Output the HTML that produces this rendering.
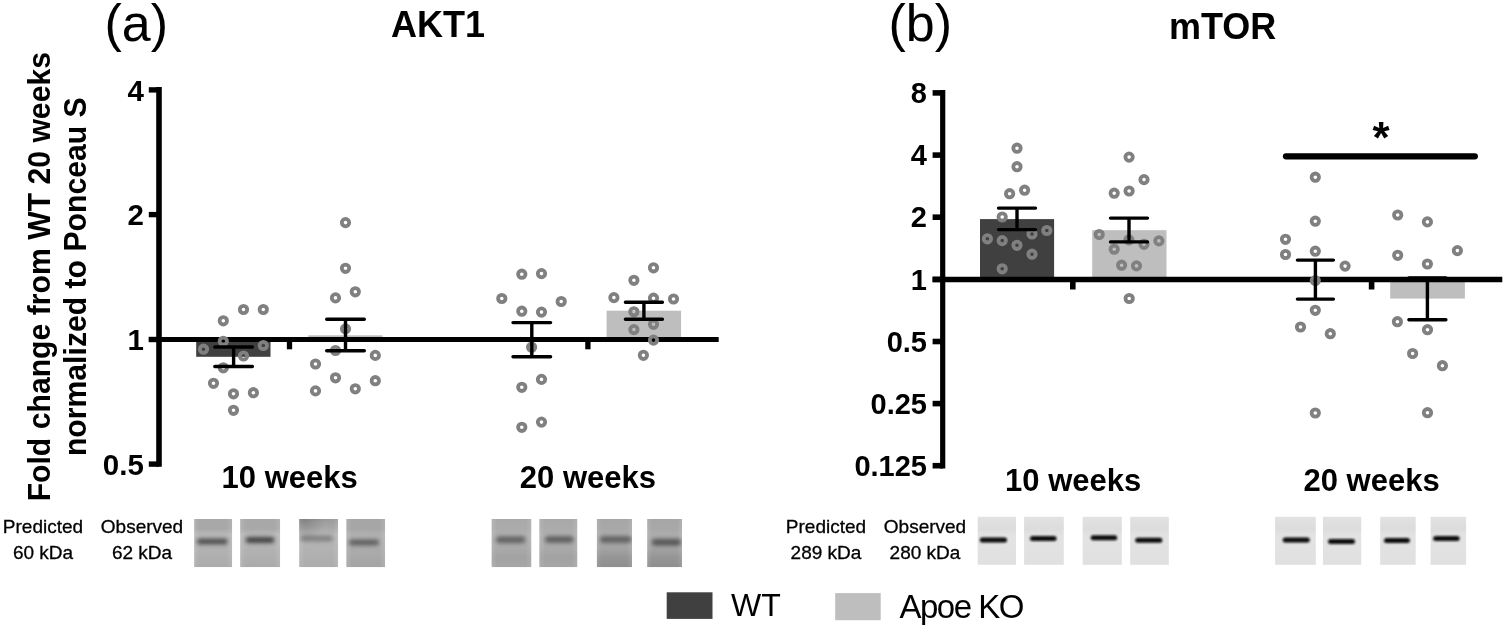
<!DOCTYPE html>
<html><head><meta charset="utf-8"><title>AKT1 and mTOR</title>
<style>html,body{margin:0;padding:0;background:#fff;}body{width:1505px;height:627px;position:relative;overflow:hidden;}</style>
</head><body>
<svg width="1505" height="627" viewBox="0 0 1505 627" style="position:absolute;left:0;top:0">
<rect width="1505" height="627" fill="#fff"/>
<text x="104.4" y="40.8" font-family='"Liberation Sans", Arial, Helvetica, sans-serif' font-size="52" fill="#000">(a)</text>
<text x="391" y="36.7" font-family='"Liberation Sans", Arial, Helvetica, sans-serif' font-size="36" font-weight="bold" fill="#000">AKT1</text>
<text x="888.4" y="40.8" font-family='"Liberation Sans", Arial, Helvetica, sans-serif' font-size="52" fill="#000">(b)</text>
<text x="1169" y="38.9" font-family='"Liberation Sans", Arial, Helvetica, sans-serif' font-size="36" font-weight="bold" fill="#000">mTOR</text>
<g font-family='"Liberation Sans", Arial, Helvetica, sans-serif' font-size="31.3" font-weight="bold" fill="#000" text-anchor="middle">
<text transform="translate(49.5 276.7) rotate(-90) scale(0.9645 1)">Fold change from WT 20 weeks</text>
<text transform="translate(86.3 276.7) rotate(-90) scale(0.9645 1)">normalized to Ponceau S</text>
</g>
<rect x="196.2" y="339" width="74.3" height="17.8" fill="#404040"/>
<rect x="308.3" y="335.3" width="74.2" height="4.5" fill="#bebebe"/>
<rect x="606.6" y="310.7" width="74.5" height="29" fill="#bebebe"/>
<rect x="980.0" y="219.1" width="74.1" height="60.5" fill="#404040"/>
<rect x="1092.2" y="230.2" width="74.3" height="49.5" fill="#bebebe"/>
<rect x="1390.2" y="279" width="74.7" height="19.6" fill="#bebebe"/>
<path d="M159.0 87.1V466.8" stroke="#000" stroke-width="5.6" fill="none"/>
<path d="M148.8 89.9H159.0" stroke="#000" stroke-width="5.4" fill="none"/>
<path d="M148.8 214.6H159.0" stroke="#000" stroke-width="5.4" fill="none"/>
<path d="M148.8 339.5H159.0" stroke="#000" stroke-width="5.4" fill="none"/>
<path d="M148.8 464.1H159.0" stroke="#000" stroke-width="5.4" fill="none"/>
<path d="M148.8 339.5H718.7" stroke="#000" stroke-width="5.1" fill="none"/>
<path d="M289.5 339.5V349.3" stroke="#000" stroke-width="5.3" fill="none"/>
<path d="M587.9 339.5V349.3" stroke="#000" stroke-width="5.3" fill="none"/>
<g font-family='"Liberation Sans", Arial, Helvetica, sans-serif' font-size="29.5" font-weight="bold" fill="#000" text-anchor="end">
<text x="143.8" y="100.5">4</text>
<text x="143.8" y="225.2">2</text>
<text x="143.8" y="350.1">1</text>
<text x="143.8" y="474.70000000000005">0.5</text>
</g>
<path d="M942.7 90.1V468.5" stroke="#000" stroke-width="5.2" fill="none"/>
<path d="M932.6 92.9H942.7" stroke="#000" stroke-width="5.6" fill="none"/>
<path d="M932.6 155.1H942.7" stroke="#000" stroke-width="5.6" fill="none"/>
<path d="M932.6 217.2H942.7" stroke="#000" stroke-width="5.6" fill="none"/>
<path d="M932.6 279.4H942.7" stroke="#000" stroke-width="5.6" fill="none"/>
<path d="M932.6 341.5H942.7" stroke="#000" stroke-width="5.6" fill="none"/>
<path d="M932.6 403.6H942.7" stroke="#000" stroke-width="5.6" fill="none"/>
<path d="M932.6 465.7H942.7" stroke="#000" stroke-width="5.6" fill="none"/>
<path d="M932.6 279.5H1502.3" stroke="#000" stroke-width="5.5" fill="none"/>
<path d="M1072.8 279.5V289.5" stroke="#000" stroke-width="5.6" fill="none"/>
<path d="M1371.6 279.5V289.5" stroke="#000" stroke-width="5.6" fill="none"/>
<g font-family='"Liberation Sans", Arial, Helvetica, sans-serif' font-size="29" font-weight="bold" fill="#000" text-anchor="end">
<text x="927" y="103.10000000000001">8</text>
<text x="927" y="165.29999999999998">4</text>
<text x="927" y="227.39999999999998">2</text>
<text x="927" y="289.59999999999997">1</text>
<text x="927" y="351.7">0.5</text>
<text x="927" y="413.8">0.25</text>
<text x="927" y="475.9">0.125</text>
</g>
<circle cx="243.5" cy="309.5" r="3.7" fill="none" stroke="#808080" stroke-width="3.8"/>
<circle cx="263.3" cy="309.5" r="3.7" fill="none" stroke="#808080" stroke-width="3.8"/>
<circle cx="223.3" cy="320.8" r="3.7" fill="none" stroke="#808080" stroke-width="3.8"/>
<circle cx="223.3" cy="341.3" r="3.7" fill="none" stroke="#808080" stroke-width="3.8"/>
<circle cx="203.5" cy="349.2" r="3.7" fill="none" stroke="#808080" stroke-width="3.8"/>
<circle cx="263.3" cy="345.5" r="3.7" fill="none" stroke="#808080" stroke-width="3.8"/>
<circle cx="243.5" cy="356.0" r="3.7" fill="none" stroke="#808080" stroke-width="3.8"/>
<circle cx="223.3" cy="367.8" r="3.7" fill="none" stroke="#808080" stroke-width="3.8"/>
<circle cx="213.5" cy="383.3" r="3.7" fill="none" stroke="#808080" stroke-width="3.8"/>
<circle cx="233.5" cy="393.8" r="3.7" fill="none" stroke="#808080" stroke-width="3.8"/>
<circle cx="253.4" cy="392.7" r="3.7" fill="none" stroke="#808080" stroke-width="3.8"/>
<circle cx="233.5" cy="410.3" r="3.7" fill="none" stroke="#808080" stroke-width="3.8"/>
<circle cx="345.5" cy="222.6" r="3.7" fill="none" stroke="#808080" stroke-width="3.8"/>
<circle cx="345.5" cy="268.3" r="3.7" fill="none" stroke="#808080" stroke-width="3.8"/>
<circle cx="355.3" cy="291.8" r="3.7" fill="none" stroke="#808080" stroke-width="3.8"/>
<circle cx="335.5" cy="297.9" r="3.7" fill="none" stroke="#808080" stroke-width="3.8"/>
<circle cx="345.5" cy="328.9" r="3.7" fill="none" stroke="#808080" stroke-width="3.8"/>
<circle cx="335.5" cy="350.5" r="3.7" fill="none" stroke="#808080" stroke-width="3.8"/>
<circle cx="375.3" cy="355.4" r="3.7" fill="none" stroke="#808080" stroke-width="3.8"/>
<circle cx="315.5" cy="364.0" r="3.7" fill="none" stroke="#808080" stroke-width="3.8"/>
<circle cx="335.5" cy="377.8" r="3.7" fill="none" stroke="#808080" stroke-width="3.8"/>
<circle cx="375.3" cy="380.7" r="3.7" fill="none" stroke="#808080" stroke-width="3.8"/>
<circle cx="315.5" cy="390.9" r="3.7" fill="none" stroke="#808080" stroke-width="3.8"/>
<circle cx="355.3" cy="388.8" r="3.7" fill="none" stroke="#808080" stroke-width="3.8"/>
<circle cx="521.8" cy="274.2" r="3.7" fill="none" stroke="#808080" stroke-width="3.8"/>
<circle cx="541.5" cy="273.6" r="3.7" fill="none" stroke="#808080" stroke-width="3.8"/>
<circle cx="501.8" cy="298.5" r="3.7" fill="none" stroke="#808080" stroke-width="3.8"/>
<circle cx="561.2" cy="301.5" r="3.7" fill="none" stroke="#808080" stroke-width="3.8"/>
<circle cx="521.8" cy="311.2" r="3.7" fill="none" stroke="#808080" stroke-width="3.8"/>
<circle cx="541.5" cy="312.1" r="3.7" fill="none" stroke="#808080" stroke-width="3.8"/>
<circle cx="531.6" cy="347.2" r="3.7" fill="none" stroke="#808080" stroke-width="3.8"/>
<circle cx="541.5" cy="379.4" r="3.7" fill="none" stroke="#808080" stroke-width="3.8"/>
<circle cx="521.8" cy="387.3" r="3.7" fill="none" stroke="#808080" stroke-width="3.8"/>
<circle cx="541.5" cy="422.1" r="3.7" fill="none" stroke="#808080" stroke-width="3.8"/>
<circle cx="521.8" cy="427.3" r="3.7" fill="none" stroke="#808080" stroke-width="3.8"/>
<circle cx="653.5" cy="267.8" r="3.7" fill="none" stroke="#808080" stroke-width="3.8"/>
<circle cx="633.9" cy="280.3" r="3.7" fill="none" stroke="#808080" stroke-width="3.8"/>
<circle cx="613.9" cy="297.6" r="3.7" fill="none" stroke="#808080" stroke-width="3.8"/>
<circle cx="653.5" cy="298.2" r="3.7" fill="none" stroke="#808080" stroke-width="3.8"/>
<circle cx="673.5" cy="299.0" r="3.7" fill="none" stroke="#808080" stroke-width="3.8"/>
<circle cx="633.9" cy="311.8" r="3.7" fill="none" stroke="#808080" stroke-width="3.8"/>
<circle cx="653.5" cy="324.3" r="3.7" fill="none" stroke="#808080" stroke-width="3.8"/>
<circle cx="633.9" cy="329.6" r="3.7" fill="none" stroke="#808080" stroke-width="3.8"/>
<circle cx="653.5" cy="340.1" r="3.7" fill="none" stroke="#808080" stroke-width="3.8"/>
<circle cx="643.4" cy="355.3" r="3.7" fill="none" stroke="#808080" stroke-width="3.8"/>
<circle cx="1017.0" cy="148.2" r="3.7" fill="none" stroke="#808080" stroke-width="3.8"/>
<circle cx="1017.0" cy="166.7" r="3.7" fill="none" stroke="#808080" stroke-width="3.8"/>
<circle cx="1024.6" cy="190.2" r="3.7" fill="none" stroke="#808080" stroke-width="3.8"/>
<circle cx="1009.6" cy="193.7" r="3.7" fill="none" stroke="#808080" stroke-width="3.8"/>
<circle cx="1002.2" cy="217.0" r="3.7" fill="none" stroke="#808080" stroke-width="3.8"/>
<circle cx="1046.8" cy="230.5" r="3.7" fill="none" stroke="#808080" stroke-width="3.8"/>
<circle cx="1032.0" cy="234.0" r="3.7" fill="none" stroke="#808080" stroke-width="3.8"/>
<circle cx="987.4" cy="238.8" r="3.7" fill="none" stroke="#808080" stroke-width="3.8"/>
<circle cx="1002.2" cy="240.6" r="3.7" fill="none" stroke="#808080" stroke-width="3.8"/>
<circle cx="1017.0" cy="245.3" r="3.7" fill="none" stroke="#808080" stroke-width="3.8"/>
<circle cx="1032.0" cy="254.2" r="3.7" fill="none" stroke="#808080" stroke-width="3.8"/>
<circle cx="1002.2" cy="268.8" r="3.7" fill="none" stroke="#808080" stroke-width="3.8"/>
<circle cx="1129.1" cy="157.1" r="3.7" fill="none" stroke="#808080" stroke-width="3.8"/>
<circle cx="1144.0" cy="179.6" r="3.7" fill="none" stroke="#808080" stroke-width="3.8"/>
<circle cx="1114.2" cy="193.2" r="3.7" fill="none" stroke="#808080" stroke-width="3.8"/>
<circle cx="1129.1" cy="191.0" r="3.7" fill="none" stroke="#808080" stroke-width="3.8"/>
<circle cx="1099.2" cy="234.5" r="3.7" fill="none" stroke="#808080" stroke-width="3.8"/>
<circle cx="1128.9" cy="239.9" r="3.7" fill="none" stroke="#808080" stroke-width="3.8"/>
<circle cx="1144.0" cy="244.3" r="3.7" fill="none" stroke="#808080" stroke-width="3.8"/>
<circle cx="1158.9" cy="240.9" r="3.7" fill="none" stroke="#808080" stroke-width="3.8"/>
<circle cx="1114.2" cy="249.2" r="3.7" fill="none" stroke="#808080" stroke-width="3.8"/>
<circle cx="1121.6" cy="265.2" r="3.7" fill="none" stroke="#808080" stroke-width="3.8"/>
<circle cx="1136.5" cy="265.9" r="3.7" fill="none" stroke="#808080" stroke-width="3.8"/>
<circle cx="1129.2" cy="298.5" r="3.7" fill="none" stroke="#808080" stroke-width="3.8"/>
<circle cx="1315.3" cy="177.2" r="3.7" fill="none" stroke="#808080" stroke-width="3.8"/>
<circle cx="1315.3" cy="221.2" r="3.7" fill="none" stroke="#808080" stroke-width="3.8"/>
<circle cx="1285.5" cy="239.3" r="3.7" fill="none" stroke="#808080" stroke-width="3.8"/>
<circle cx="1285.5" cy="254.5" r="3.7" fill="none" stroke="#808080" stroke-width="3.8"/>
<circle cx="1315.3" cy="251.2" r="3.7" fill="none" stroke="#808080" stroke-width="3.8"/>
<circle cx="1345.1" cy="266.1" r="3.7" fill="none" stroke="#808080" stroke-width="3.8"/>
<circle cx="1315.3" cy="280.6" r="3.7" fill="none" stroke="#808080" stroke-width="3.8"/>
<circle cx="1315.3" cy="310.3" r="3.7" fill="none" stroke="#808080" stroke-width="3.8"/>
<circle cx="1300.5" cy="327.0" r="3.7" fill="none" stroke="#808080" stroke-width="3.8"/>
<circle cx="1330.3" cy="333.7" r="3.7" fill="none" stroke="#808080" stroke-width="3.8"/>
<circle cx="1315.3" cy="413.0" r="3.7" fill="none" stroke="#808080" stroke-width="3.8"/>
<circle cx="1397.7" cy="215.0" r="3.7" fill="none" stroke="#808080" stroke-width="3.8"/>
<circle cx="1427.4" cy="221.9" r="3.7" fill="none" stroke="#808080" stroke-width="3.8"/>
<circle cx="1457.4" cy="250.6" r="3.7" fill="none" stroke="#808080" stroke-width="3.8"/>
<circle cx="1397.7" cy="255.3" r="3.7" fill="none" stroke="#808080" stroke-width="3.8"/>
<circle cx="1427.4" cy="264.0" r="3.7" fill="none" stroke="#808080" stroke-width="3.8"/>
<circle cx="1397.4" cy="321.7" r="3.7" fill="none" stroke="#808080" stroke-width="3.8"/>
<circle cx="1427.5" cy="329.7" r="3.7" fill="none" stroke="#808080" stroke-width="3.8"/>
<circle cx="1412.6" cy="353.5" r="3.7" fill="none" stroke="#808080" stroke-width="3.8"/>
<circle cx="1442.4" cy="365.7" r="3.7" fill="none" stroke="#808080" stroke-width="3.8"/>
<circle cx="1427.5" cy="412.7" r="3.7" fill="none" stroke="#808080" stroke-width="3.8"/>
<path d="M214.79999999999998 347.0H252.4M214.79999999999998 366.5H252.4" stroke="#000" stroke-width="3.4" stroke-linecap="round" fill="none"/>
<path d="M233.6 347.0V366.5" stroke="#000" stroke-width="3.4" fill="none"/>
<path d="M326.7 319.2H364.3M326.7 350.7H364.3" stroke="#000" stroke-width="3.4" stroke-linecap="round" fill="none"/>
<path d="M345.5 319.2V350.7" stroke="#000" stroke-width="3.4" fill="none"/>
<path d="M513.0 322.6H550.5999999999999M513.0 356.7H550.5999999999999" stroke="#000" stroke-width="3.4" stroke-linecap="round" fill="none"/>
<path d="M531.8 322.6V356.7" stroke="#000" stroke-width="3.4" fill="none"/>
<path d="M625.4 302.2H662.4M625.4 319.2H662.4" stroke="#000" stroke-width="3.4" stroke-linecap="round" fill="none"/>
<path d="M643.9 302.2V319.2" stroke="#000" stroke-width="3.4" fill="none"/>
<path d="M998.5 208.1H1035.5M998.5 229.6H1035.5" stroke="#000" stroke-width="3.4" stroke-linecap="round" fill="none"/>
<path d="M1017.0 208.1V229.6" stroke="#000" stroke-width="3.4" fill="none"/>
<path d="M1110.5 218.1H1147.5M1110.5 241.9H1147.5" stroke="#000" stroke-width="3.4" stroke-linecap="round" fill="none"/>
<path d="M1129.0 218.1V241.9" stroke="#000" stroke-width="3.4" fill="none"/>
<path d="M1297.4 260.1H1333.4M1297.4 299.1H1333.4" stroke="#000" stroke-width="3.4" stroke-linecap="round" fill="none"/>
<path d="M1315.4 260.1V299.1" stroke="#000" stroke-width="3.4" fill="none"/>
<path d="M1408.9 278.0H1445.9M1408.9 319.8H1445.9" stroke="#000" stroke-width="3.4" stroke-linecap="round" fill="none"/>
<path d="M1427.4 278.0V319.8" stroke="#000" stroke-width="3.4" fill="none"/>
<path d="M1286 156.3H1474.8" stroke="#000" stroke-width="6.3" stroke-linecap="round"/>
<text x="1381" y="152.7" font-family='"Liberation Sans", Arial, Helvetica, sans-serif' font-size="44" font-weight="bold" text-anchor="middle">*</text>
<g font-family='"Liberation Sans", Arial, Helvetica, sans-serif' font-size="31" font-weight="bold" fill="#000" text-anchor="middle">
<text x="289.7" y="487.6">10 weeks</text>
<text x="587.9" y="487.6">20 weeks</text>
<text x="1073.2" y="490.7">10 weeks</text>
<text x="1371.6" y="490.7">20 weeks</text>
</g>
<g font-family='"Liberation Sans", Arial, Helvetica, sans-serif' font-size="19" fill="#000" stroke="#000" stroke-width="0.3" text-anchor="middle">
<text x="43" y="533.4">Predicted</text><text x="43" y="558.6">60 kDa</text>
<text x="142" y="533.4">Observed</text><text x="142" y="558.6">62 kDa</text>
<text x="826" y="533.4">Predicted</text><text x="826" y="558.6">289 kDa</text>
<text x="925" y="533.4">Observed</text><text x="925" y="558.6">280 kDa</text>
</g>
<defs>
<filter id="bl" x="-30%" y="-150%" width="160%" height="400%"><feGaussianBlur stdDeviation="2.1"/></filter>
<filter id="bl2" x="-20%" y="-100%" width="140%" height="300%"><feGaussianBlur stdDeviation="0.8"/></filter>
<linearGradient id="gB" x1="0" y1="0" x2="0" y2="1"><stop offset="0" stop-color="#e2e2e2"/><stop offset="0.25" stop-color="#dcdcdc"/><stop offset="0.4" stop-color="#e3e3e3"/><stop offset="1" stop-color="#e0e0e0"/></linearGradient>
<linearGradient id="edgeA" x1="0" y1="0" x2="1" y2="0"><stop offset="0" stop-color="#fff" stop-opacity="0.12"/><stop offset="0.15" stop-color="#fff" stop-opacity="0"/><stop offset="0.85" stop-color="#fff" stop-opacity="0"/><stop offset="1" stop-color="#fff" stop-opacity="0.12"/></linearGradient>
</defs>
<defs><linearGradient id="ga0" x1="0" y1="0" x2="0" y2="1"><stop offset="0" stop-color="#a9a9a9"/><stop offset="0.2" stop-color="#a8a8a8"/><stop offset="0.32" stop-color="#b8b8b8"/><stop offset="0.6" stop-color="#b3b3b3"/><stop offset="1" stop-color="#aaaaaa"/></linearGradient><clipPath id="ca0"><rect x="194.1" y="519" width="38.1" height="48.2"/></clipPath></defs>
<g clip-path="url(#ca0)"><rect x="194.1" y="519" width="38.1" height="48.2" fill="url(#ga0)"/><rect x="194.1" y="519" width="38.1" height="48.2" fill="url(#edgeA)"/>
<rect x="196.9" y="538.75" width="30.7" height="5.5" rx="2.75" fill="#4a4a4a" filter="url(#bl)"/></g>
<defs><linearGradient id="ga1" x1="0" y1="0" x2="0" y2="1"><stop offset="0" stop-color="#a9a9a9"/><stop offset="0.2" stop-color="#a8a8a8"/><stop offset="0.32" stop-color="#b8b8b8"/><stop offset="0.6" stop-color="#b3b3b3"/><stop offset="1" stop-color="#aaaaaa"/></linearGradient><clipPath id="ca1"><rect x="240.1" y="519" width="40.1" height="48.2"/></clipPath></defs>
<g clip-path="url(#ca1)"><rect x="240.1" y="519" width="40.1" height="48.2" fill="url(#ga1)"/><rect x="240.1" y="519" width="40.1" height="48.2" fill="url(#edgeA)"/>
<rect x="245.7" y="537.25" width="28.6" height="5.5" rx="2.75" fill="#383838" filter="url(#bl)"/></g>
<defs><linearGradient id="ga2" x1="0" y1="0" x2="0" y2="1"><stop offset="0" stop-color="#9a9a9a"/><stop offset="0.2" stop-color="#a9a9a9"/><stop offset="0.32" stop-color="#b6b6b6"/><stop offset="0.6" stop-color="#b3b3b3"/><stop offset="1" stop-color="#acacac"/></linearGradient><clipPath id="ca2"><rect x="299.1" y="519" width="39.0" height="48.2"/></clipPath></defs>
<g clip-path="url(#ca2)"><rect x="299.1" y="519" width="39.0" height="48.2" fill="url(#ga2)"/><rect x="299.1" y="519" width="39.0" height="48.2" fill="url(#edgeA)"/>
<rect x="300.8" y="535.85" width="32.1" height="5.5" rx="2.75" fill="#7e7e7e" filter="url(#bl)"/></g>
<defs><linearGradient id="ga3" x1="0" y1="0" x2="0" y2="1"><stop offset="0" stop-color="#a6a6a6"/><stop offset="0.2" stop-color="#a6a6a6"/><stop offset="0.32" stop-color="#b0b0b0"/><stop offset="0.6" stop-color="#acacac"/><stop offset="1" stop-color="#a4a4a4"/></linearGradient><clipPath id="ca3"><rect x="346.2" y="519" width="39.0" height="48.2"/></clipPath></defs>
<g clip-path="url(#ca3)"><rect x="346.2" y="519" width="39.0" height="48.2" fill="url(#ga3)"/><rect x="346.2" y="519" width="39.0" height="48.2" fill="url(#edgeA)"/>
<rect x="349.0" y="539.65" width="30.0" height="5.5" rx="2.75" fill="#5a5a5a" filter="url(#bl)"/></g>
<defs><radialGradient id="rc" cx="303" cy="520" r="22" gradientUnits="userSpaceOnUse"><stop offset="0" stop-color="#000" stop-opacity="0.16"/><stop offset="1" stop-color="#000" stop-opacity="0"/></radialGradient></defs>
<rect x="299.1" y="519" width="39" height="48.2" fill="url(#rc)"/>
<defs><linearGradient id="ga4" x1="0" y1="0" x2="0" y2="1"><stop offset="0" stop-color="#a9a9a9"/><stop offset="0.2" stop-color="#ababab"/><stop offset="0.32" stop-color="#b0b0b0"/><stop offset="0.6" stop-color="#aaaaaa"/><stop offset="0.8" stop-color="#a2a2a2"/><stop offset="1" stop-color="#a6a6a6"/></linearGradient><clipPath id="ca4"><rect x="491.4" y="519" width="40.1" height="48.2"/></clipPath></defs>
<g clip-path="url(#ca4)"><rect x="491.4" y="519" width="40.1" height="48.2" fill="url(#ga4)"/><rect x="491.4" y="519" width="40.1" height="48.2" fill="url(#edgeA)"/>
<rect x="496.0" y="536.55" width="29.3" height="6.5" rx="3.25" fill="#606060" filter="url(#bl)"/></g>
<defs><linearGradient id="ga5" x1="0" y1="0" x2="0" y2="1"><stop offset="0" stop-color="#a9a9a9"/><stop offset="0.2" stop-color="#ababab"/><stop offset="0.32" stop-color="#b0b0b0"/><stop offset="0.6" stop-color="#aaaaaa"/><stop offset="0.8" stop-color="#a2a2a2"/><stop offset="1" stop-color="#a6a6a6"/></linearGradient><clipPath id="ca5"><rect x="539.2" y="519" width="38.3" height="48.2"/></clipPath></defs>
<g clip-path="url(#ca5)"><rect x="539.2" y="519" width="38.3" height="48.2" fill="url(#ga5)"/><rect x="539.2" y="519" width="38.3" height="48.2" fill="url(#edgeA)"/>
<rect x="545.0" y="536.15" width="28.6" height="6.5" rx="3.25" fill="#5c5c5c" filter="url(#bl)"/></g>
<defs><linearGradient id="ga6" x1="0" y1="0" x2="0" y2="1"><stop offset="0" stop-color="#a6a6a6"/><stop offset="0.2" stop-color="#a8a8a8"/><stop offset="0.32" stop-color="#adadad"/><stop offset="0.6" stop-color="#a4a4a4"/><stop offset="0.8" stop-color="#959595"/><stop offset="1" stop-color="#8e8e8e"/></linearGradient><clipPath id="ca6"><rect x="596.7" y="519" width="35.3" height="48.2"/></clipPath></defs>
<g clip-path="url(#ca6)"><rect x="596.7" y="519" width="35.3" height="48.2" fill="url(#ga6)"/><rect x="596.7" y="519" width="35.3" height="48.2" fill="url(#edgeA)"/>
<rect x="599.9" y="536.35" width="31.4" height="6.5" rx="3.25" fill="#5e5e5e" filter="url(#bl)"/></g>
<defs><linearGradient id="ga7" x1="0" y1="0" x2="0" y2="1"><stop offset="0" stop-color="#a6a6a6"/><stop offset="0.2" stop-color="#a8a8a8"/><stop offset="0.32" stop-color="#adadad"/><stop offset="0.6" stop-color="#a4a4a4"/><stop offset="0.8" stop-color="#959595"/><stop offset="1" stop-color="#8e8e8e"/></linearGradient><clipPath id="ca7"><rect x="647.1" y="519" width="34.9" height="48.2"/></clipPath></defs>
<g clip-path="url(#ca7)"><rect x="647.1" y="519" width="34.9" height="48.2" fill="url(#ga7)"/><rect x="647.1" y="519" width="34.9" height="48.2" fill="url(#edgeA)"/>
<rect x="651.8" y="539.05" width="29.2" height="6.5" rx="3.25" fill="#555555" filter="url(#bl)"/></g>
<rect x="977.7" y="516.8" width="38.3" height="48" fill="url(#gB)"/>
<rect x="979.8" y="537.4" width="27.2" height="5" rx="2.5" fill="#0a0a0a" filter="url(#bl2)"/>
<rect x="1024.1" y="516.8" width="39.7" height="48" fill="url(#gB)"/>
<rect x="1030.0" y="536.1" width="26.5" height="5" rx="2.5" fill="#0a0a0a" filter="url(#bl2)"/>
<rect x="1082.7" y="516.8" width="39.1" height="48" fill="url(#gB)"/>
<rect x="1090.7" y="535.3" width="26.5" height="5" rx="2.5" fill="#0a0a0a" filter="url(#bl2)"/>
<rect x="1130.2" y="516.8" width="38.6" height="48" fill="url(#gB)"/>
<rect x="1135.3" y="537.7" width="27.0" height="5" rx="2.5" fill="#0a0a0a" filter="url(#bl2)"/>
<rect x="1275.1" y="516.8" width="40.7" height="48" fill="url(#gB)"/>
<rect x="1282.7" y="537.6" width="27.0" height="5" rx="2.5" fill="#0a0a0a" filter="url(#bl2)"/>
<rect x="1322.9" y="516.8" width="38.3" height="48" fill="url(#gB)"/>
<rect x="1328.0" y="539.0" width="27.0" height="5" rx="2.5" fill="#0a0a0a" filter="url(#bl2)"/>
<rect x="1380.2" y="516.8" width="35.5" height="48" fill="url(#gB)"/>
<rect x="1384.0" y="538.0" width="25.9" height="5" rx="2.5" fill="#0a0a0a" filter="url(#bl2)"/>
<rect x="1430.6" y="516.8" width="35.5" height="48" fill="url(#gB)"/>
<rect x="1433.2" y="536.1" width="26.4" height="5" rx="2.5" fill="#0a0a0a" filter="url(#bl2)"/>
<rect x="666.7" y="592.3" width="45.8" height="26.6" fill="#404040"/>
<rect x="835.2" y="593.1" width="45.5" height="27.1" fill="#bebebe"/>
<g font-family='"Liberation Sans", Arial, Helvetica, sans-serif' font-size="32" fill="#000">
<text x="731" y="616.4">WT</text>
<text x="899.5" y="617.6" font-size="33" letter-spacing="-1.5">Apoe KO</text>
</g>
</svg>
</body></html>
